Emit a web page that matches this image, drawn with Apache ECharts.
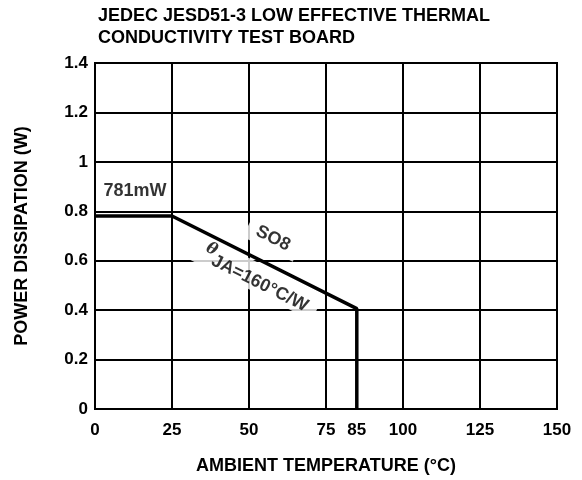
<!DOCTYPE html>
<html>
<head>
<meta charset="utf-8">
<script src="https://cdn.jsdelivr.net/npm/echarts@6/dist/echarts.min.js"></script>
<style>
  html, body { margin: 0; padding: 0; background: #fff; }
  #chart { width: 582px; height: 480px; }
</style>
</head>
<body>
<div id="chart"></div>
<script>
// Derating curve: ambient temperature (°C) vs allowed power dissipation (W)
const temperatures = [0, 25, 85, 85];
const powerDissipation = [0.781, 0.781, 0.406, 0];
const xTickLabels = [0, 25, 50, 75, 85, 100, 125, 150];
const yTickLabels = [0, 0.2, 0.4, 0.6, 0.8, 1, 1.2, 1.4];

// Annotation anchors in data space: [temperature, power, text]
const annotations = [
  [13.0, 0.88, '781mW'],
  [57.8, 0.69, 'SO8'],
  [52.5, 0.532, 'theta']
];

const FONT = '"Liberation Sans", Arial, sans-serif';
const FS = 18;
const SLOPE_ANGLE = -26.6;

const chart = echarts.init(document.getElementById('chart'));

const annotationData = annotations.map(a => {
  const d = { value: [a[0], a[1]], name: a[2] };
  if (a[2] === 'SO8') {
    d.label = { rotate: SLOPE_ANGLE, backgroundColor: '#fff', padding: [3, 10, 3, 10] };
  } else if (a[2] === 'theta') {
    d.label = { rotate: SLOPE_ANGLE, backgroundColor: '#fff', padding: [1, 10, 1, 10] };
  } else {
    d.label = { backgroundColor: '#fff', padding: [2, 4, 2, 4] };
  }
  return d;
});

chart.setOption({
  animation: false,
  backgroundColor: '#fff',
  title: {
    text: 'JEDEC JESD51-3 LOW EFFECTIVE THERMAL\nCONDUCTIVITY TEST BOARD',
    left: 93,
    top: 0,
    textStyle: { fontFamily: FONT, fontWeight: 'bold', fontSize: FS, color: '#000', lineHeight: 22 }
  },
  grid: {
    left: 95, right: 25, top: 63, bottom: 71,
    show: true, borderColor: '#000', borderWidth: 2, backgroundColor: 'transparent'
  },
  xAxis: {
    type: 'value', min: 0, max: 150, interval: 25,
    name: 'AMBIENT TEMPERATURE (°C)',
    nameLocation: 'middle', nameGap: 48,
    nameTextStyle: { fontFamily: FONT, fontWeight: 'bold', fontSize: FS, color: '#000' },
    axisLine: { show: false },
    axisTick: { show: false },
    axisLabel: {
      customValues: xTickLabels,
      margin: 13,
      fontFamily: FONT, fontWeight: 'bold', fontSize: 17, color: '#000'
    },
    splitLine: { show: true, lineStyle: { color: '#000', width: 2 } }
  },
  yAxis: {
    type: 'value', min: 0, max: 1.4, interval: 0.2,
    name: 'POWER DISSIPATION (W)',
    nameLocation: 'middle', nameGap: 64,
    nameTextStyle: { fontFamily: FONT, fontWeight: 'bold', fontSize: FS, color: '#000' },
    axisLine: { show: false },
    axisTick: { show: false },
    axisLabel: {
      customValues: yTickLabels,
      margin: 7,
      fontFamily: FONT, fontWeight: 'bold', fontSize: 17, color: '#000',
      formatter: v => String(Math.round(v * 10) / 10)
    },
    splitLine: { show: true, lineStyle: { color: '#000', width: 2 } }
  },
  series: [
    {
      type: 'line',
      data: temperatures.map((t, i) => [t, powerDissipation[i]]),
      symbol: 'none',
      lineStyle: { color: '#000', width: 3.5 },
      z: 5
    },
    {
      type: 'scatter',
      symbolSize: 0,
      silent: true,
      z: 4,
      data: annotationData,
      label: {
        show: true,
        position: 'inside',
        color: '#000',
        fontFamily: FONT,
        fontWeight: 'bold',
        fontSize: FS,
        formatter: p => (p.name === 'theta' ? '{th|θ}{sub|JA=160°C/W}' : p.name),
        rich: {
          th: { fontFamily: '"DejaVu Serif", serif', fontStyle: 'italic', fontSize: 16, color: '#000', verticalAlign: 'top', lineHeight: 26 },
          sub: { fontFamily: FONT, fontWeight: 'bold', fontSize: FS, color: '#000', verticalAlign: 'bottom', lineHeight: 26 }
        }
      }
    }
  ]
});
</script>
</body>
</html>
